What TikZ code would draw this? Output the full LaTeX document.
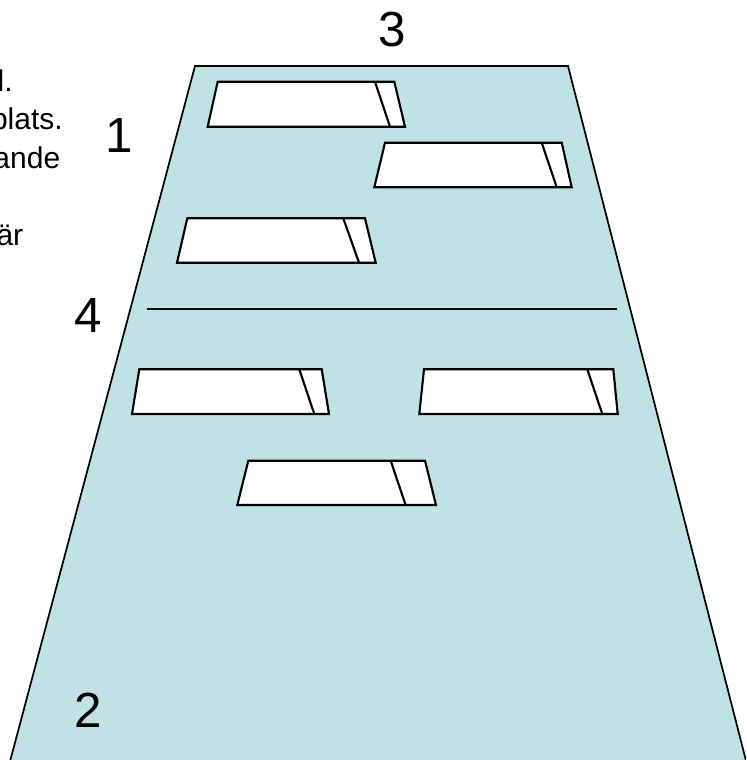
\documentclass[tikz,border=0pt]{standalone}
\usepackage{fontspec}
\setmainfont{Liberation Sans}
\usepackage{xcolor}
\definecolor{lanecyan}{RGB}{193,226,228}
\tikzstyle{lane} = [fill=lanecyan, draw=black, line width=1.3pt]
\tikzstyle{plate} = [fill=white, draw=black, line width=1.6pt]
\tikzstyle{divider} = [draw=black, line width=1.6pt]
\tikzstyle{numlabel} = [inner sep=0pt, font=\fontsize{37}{40}\selectfont]
\tikzstyle{sidetext} = [inner sep=0pt, anchor=base east, font=\fontsize{22.5}{26}\selectfont]

\begin{document}
\begin{tikzpicture}[x=0.75pt, y=-0.75pt]
\useasboundingbox (0,0) rectangle (746,760);
\begin{scope}
\clip (0,0) rectangle (746,760);

% Field
\draw[lane] (195,66) -- (568,66) -- (753.5,790) -- (2.4,790) -- cycle;

% Upper plates
\draw[plate] (217.7,81.7) -- (394.3,81.7) -- (405,126.7) -- (207.7,126.7) -- cycle;
\draw[plate] (375,81.7) -- (390,126.7);
\draw[plate] (385,142.7) -- (561.7,142.7) -- (571.7,187.3) -- (374.3,187.3) -- cycle;
\draw[plate] (541.7,142.7) -- (556.7,187.3);
\draw[plate] (187.3,218.3) -- (365,218.3) -- (375.7,262.7) -- (177,262.7) -- cycle;
\draw[plate] (343.3,218.3) -- (359,262.7);

% Divider
\draw[divider] (146.7,309) -- (616.7,309);

% Lower plates
\draw[plate] (139.3,369.3) -- (321.7,369.3) -- (329,414) -- (132,414) -- cycle;
\draw[plate] (299.3,369.3) -- (314.3,414);
\draw[plate] (424,369.3) -- (613.3,369.3) -- (617.7,414) -- (419.3,414) -- cycle;
\draw[plate] (587.3,369.3) -- (602.3,414);
\draw[plate] (248.3,460.7) -- (425,460.7) -- (436,505) -- (237.3,505) -- cycle;
\draw[plate] (390.7,460.7) -- (405.6,505);

% Numbers
\node[numlabel] (three) at (392,30) {3};
\node[numlabel] (one) at (119,136) {1};
\node[numlabel] (four) at (88,316) {4};
\node[numlabel] (two) at (88.7,710.5) {2};

% Text cut off at the left edge
\node[sidetext] (lineA) at (13,91) {l.};
\node[sidetext] (lineB) at (63,129.5) {plats.};
\node[sidetext] (lineC) at (60.5,168) {ande};
\node[sidetext] (lineD) at (23.5,245) {är};
\end{scope}
\end{tikzpicture}
\end{document}
